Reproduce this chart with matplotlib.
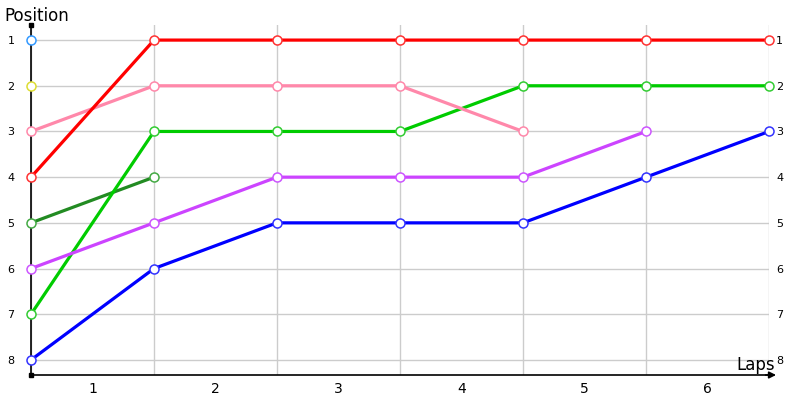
import numpy as np
import matplotlib.pyplot as plt

# lap boundary index (0 = start) and position after each lap
laps = [0, 1, 2, 3, 4, 5, 6]

red_pos = [4, 1, 1, 1, 1, 1, 1]
pink_pos = [3, 2, 2, 2, 3]
green_pos = [7, 3, 3, 3, 2, 2, 2]
darkgreen_pos = [5, 4]
violet_pos = [6, 5, 4, 4, 4, 3]
blue_pos = [8, 6, 5, 5, 5, 4, 3]
# drivers shown only at the start
start_only_pos = [1, 2]
start_only_colors = ['#3399ff', '#dddd33']

series = [
    (darkgreen_pos, '#228b22', '#44aa44'),
    (green_pos, '#00cc00', '#33cc33'),
    (violet_pos, '#cc44ff', '#cc55ff'),
    (blue_pos, '#0000ff', '#3333ff'),
    (pink_pos, '#ff88aa', '#ff88aa'),
    (red_pos, '#ff0000', '#ff3333'),
]

lap_labels = ['1', '2', '3', '4', '5', '6']
pos_labels = ['1', '2', '3', '4', '5', '6', '7', '8']

fig = plt.figure(figsize=(8, 4), dpi=100)
ax = fig.add_axes([31 / 800, 25 / 400, (769 - 31) / 800, 350 / 400])

for pos, col, edge in series:
    ax.plot(laps[:len(pos)], pos, color=col, lw=2.3, zorder=3,
            marker='o', ms=6.5, mfc='white', mec=edge, mew=1.1,
            solid_capstyle='round', clip_on=False)

for p, c in zip(start_only_pos, start_only_colors):
    ax.plot([0], [p], marker='o', ms=6.5, mfc='white', mec=c, mew=1.1,
            ls='none', zorder=3, clip_on=False)

ax.set_xlim(0, 6)
ax.set_ylim(8.33, 0.67)

# grid
ax.set_xticks(laps)
ax.set_xticks(np.arange(0.5, 6, 1), minor=True)
ax.set_xticklabels([])
ax.set_xticklabels(lap_labels, minor=True, fontsize=10)
ax.set_yticks(range(1, 9))
ax.set_yticklabels(pos_labels, fontsize=8)
ax.grid(True, which='major', color='#cccccc', lw=1)
ax.tick_params(axis='x', which='both', length=0, pad=5)
ax.tick_params(axis='y', length=0, pad=12, labelright=True, right=False)

for t in ax.yaxis.get_major_ticks():
    t.label2.set_fontsize(8)
    t.label2.set_horizontalalignment('left')
    t.label2.set_x(1.0)
for lbl in ax.yaxis.get_ticklabels():
    pass

for s in ['top', 'right']:
    ax.spines[s].set_visible(False)
ax.spines['left'].set_linewidth(1.2)
ax.spines['bottom'].set_linewidth(1.2)

# arrow on x axis and dots on y axis
ax.annotate('', xy=(6.08, 8.33), xytext=(5.95, 8.33),
            arrowprops=dict(arrowstyle='-|>', color='black', lw=1.2,
                            mutation_scale=10),
            annotation_clip=False)
ax.plot([0, 0], [0.67, 8.33], ls='none', marker='s', ms=2.5, color='black',
        clip_on=False, zorder=5)

fig.canvas.draw()
# right-side labels sit just beside the last gridline
from matplotlib.transforms import ScaledTranslation
shift = ScaledTranslation(-7 / 72, 0, fig.dpi_scale_trans)
for t in ax.yaxis.get_major_ticks():
    t.label2.set_transform(t.label2.get_transform() + shift)

fig.text(4 / 800, 1 - 16 / 400, 'Position', fontsize=12, va='center', ha='left')
fig.text(775 / 800, 1 - 365 / 400, 'Laps', fontsize=12, va='center', ha='right')

fig.savefig('out.png')
